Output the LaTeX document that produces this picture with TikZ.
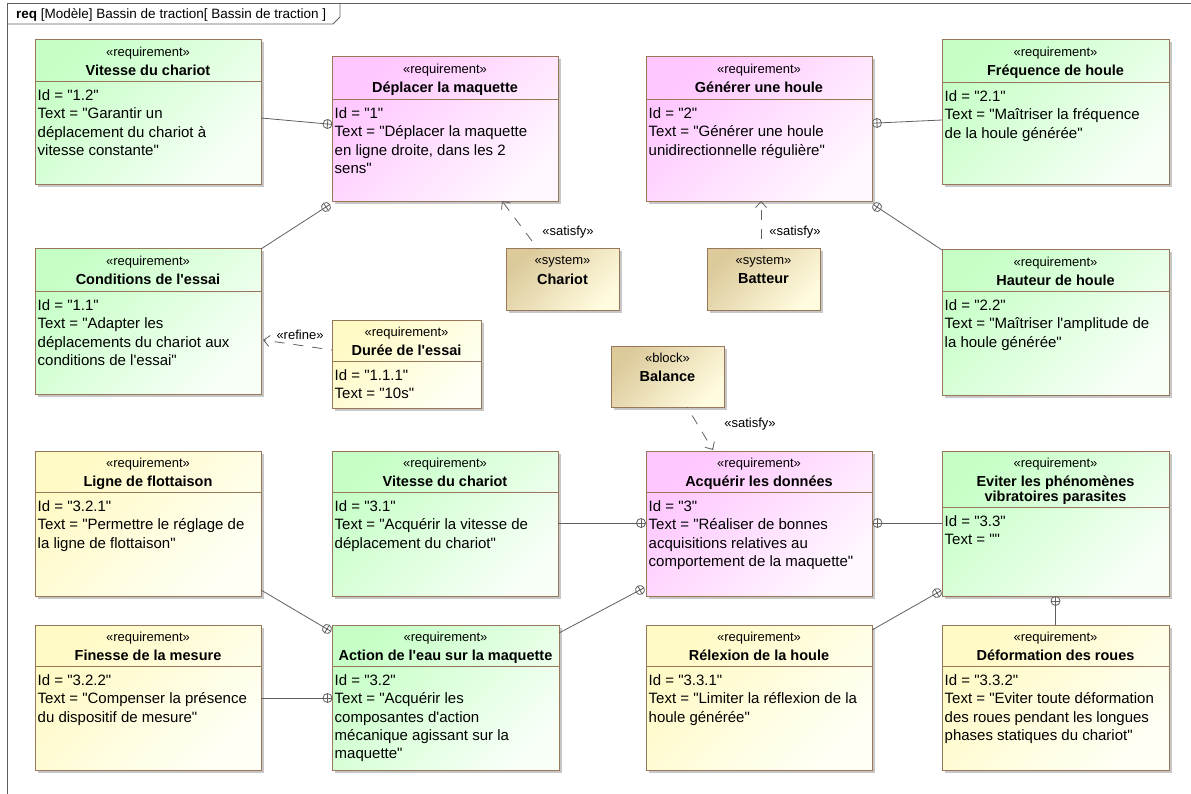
\documentclass[tikz,border=0pt]{standalone}
\usepackage{fontspec}
\setmainfont{Liberation Sans}[Ligatures=TeXOff]
\usetikzlibrary{positioning, calc, arrows.meta, decorations.markings, shadows}

\definecolor{edge}{RGB}{152,120,90}
\definecolor{wire}{RGB}{95,95,95}
\definecolor{greenA}{RGB}{198,255,198}
\definecolor{greenB}{RGB}{247,255,247}
\definecolor{pinkA}{RGB}{255,198,255}
\definecolor{pinkB}{RGB}{255,247,255}
\definecolor{yellowA}{RGB}{255,250,196}
\definecolor{yellowB}{RGB}{255,255,245}
\definecolor{tanA}{RGB}{220,202,155}
\definecolor{tanB}{RGB}{255,251,222}

\tikzset{
  box/.style={rectangle, draw=edge, line width=1pt, anchor=north west, inner sep=0pt, outer sep=0pt,
    minimum width=226pt, minimum height=145pt,
    drop shadow={shadow xshift=2.5pt, shadow yshift=-2.5pt, fill=black, opacity=0.22}},
  greenfill/.style={top color=greenA, bottom color=greenB, shading angle=45},
  pinkfill/.style={top color=pinkA, bottom color=pinkB, shading angle=45},
  yellowfill/.style={top color=yellowA, bottom color=yellowB, shading angle=45},
  tanfill/.style={top color=tanA, bottom color=tanB, shading angle=45},
  stereo/.style={font=\fontsize{13}{14}\selectfont, inner sep=0pt, anchor=north},
  heading/.style={font=\fontsize{14.5}{15.5}\selectfont\bfseries, inner sep=0pt, anchor=north, align=center},
  body/.style={font=\fontsize{15}{18.3}\selectfont, inner sep=0pt, anchor=north west, align=left},
  lbl/.style={font=\fontsize{13}{14}\selectfont, inner sep=0pt},
  divider/.style={draw=edge, line width=0.8pt},
  contain/.style={draw=wire, line width=0.8pt,
    postaction={decorate, decoration={markings, mark=at position 1 with {
      \draw[wire, line width=0.8pt, fill=white] (0pt,0pt) circle (4.5pt);
      \draw[wire, line width=0.8pt] (-4.5pt,0pt) -- (4.5pt,0pt) (0pt,-4.5pt) -- (0pt,4.5pt);}}}},
  dep/.style={draw=wire, line width=0.8pt, dash pattern=on 10pt off 9pt, dash phase=9pt,
    -{Straight Barb[length=6pt, width=11pt, line width=0.8pt]}}
}

% requirement box: [box options] {name} {north west} {fill} {title} {divider depth} {body}
\newcommand{\reqbox}[7][]{%
  \node[box, #4, #1] (#2) at (#3) {};
  \node[stereo] (#2-st) at ([yshift=-7pt]#2.north) {«requirement»};
  \node[heading] (#2-ti) at ([yshift=-24.5pt]#2.north) {#5};
  \draw[divider] ([yshift=-#6pt]#2.north west) -- ([yshift=-#6pt]#2.north east);
  \node[body] (#2-tx) at ([xshift=2.5pt, yshift=-#6pt-8.5pt]#2.north west) {#7};
}
% system / block box: {name} {north west} {stereotype} {title}
\newcommand{\sysbox}[4]{%
  \node[box, tanfill, minimum width=113pt, minimum height=61pt] (#1) at (#2) {};
  \node[stereo] (#1-st) at ([yshift=-7pt]#1.north) {«#3»};
  \node[heading] (#1-ti) at ([yshift=-24.5pt]#1.north) {#4};
}

\begin{document}
\begin{tikzpicture}[x=1pt, y=-1pt]
\useasboundingbox (0,0) rectangle (1191,794);

% Frame
\draw[wire, line width=0.8pt] (1200,3) -- (7,3) -- (7,800);
\draw[wire, line width=0.8pt] (7,24) -- (333,24) -- (340,17) -- (340,3);
\node[anchor=base west, inner sep=0pt, font=\fontsize{13.5}{14}\selectfont] (frametitle) at (16,19)
  {\textbf{req} [Modèle] Bassin de traction[ Bassin de traction ]};

% Requirements, top half
\reqbox{vitA}{35,40}{greenfill}{Vitesse du chariot}{41}
  {Id = "1.2"\\Text = "Garantir un\\déplacement du chariot à\\vitesse constante"}
\reqbox{depl}{332,57}{pinkfill}{Déplacer la maquette}{42}
  {Id = "1"\\Text = "Déplacer la maquette\\en ligne droite, dans les 2\\sens"}
\reqbox{gen}{646,57}{pinkfill}{Générer une houle}{42}
  {Id = "2"\\Text = "Générer une houle\\unidirectionnelle régulière"}
\reqbox[minimum width=227pt]{freq}{942,40}{greenfill}{Fréquence de houle}{42}
  {Id = "2.1"\\Text = "Maîtriser la fréquence\\de la houle générée"}
\reqbox{cond}{35,249}{greenfill}{Conditions de l'essai}{42}
  {Id = "1.1"\\Text = "Adapter les\\déplacements du chariot aux\\conditions de l'essai"}
\reqbox[minimum width=227pt]{haut}{942,250}{greenfill}{Hauteur de houle}{41}
  {Id = "2.2"\\Text = "Maîtriser l'amplitude de\\la houle générée"}
\reqbox[minimum width=149pt, minimum height=88pt]{duree}{332,320}{yellowfill}{Durée de l'essai}{41}
  {Id = "1.1.1"\\Text = "10s"}

% Systems and block
\sysbox{chariot}{506,249}{system}{Chariot}
\sysbox{batteur}{707,249}{system}{Batteur}
\sysbox{balance}{611,346}{block}{Balance}

% Requirements, bottom half
\reqbox{ligne}{35,451}{yellowfill}{Ligne de flottaison}{41}
  {Id = "3.2.1"\\Text = "Permettre le réglage de\\la ligne de flottaison"}
\reqbox{vitB}{332,451}{greenfill}{Vitesse du chariot}{41}
  {Id = "3.1"\\Text = "Acquérir la vitesse de\\déplacement du chariot"}
\reqbox{acq}{646,451}{pinkfill}{Acquérir les données}{41}
  {Id = "3"\\Text = "Réaliser de bonnes\\acquisitions relatives au\\comportement de la maquette"}
\reqbox[minimum width=227pt]{evit}{942,451}{greenfill}{Eviter les phénomènes\\vibratoires parasites}{56}
  {Id = "3.3"\\Text = ""}
\reqbox{fin}{35,625}{yellowfill}{Finesse de la mesure}{41}
  {Id = "3.2.2"\\Text = "Compenser la présence\\du dispositif de mesure"}
\reqbox[minimum width=227pt]{act}{332,625}{greenfill}{Action de l'eau sur la maquette}{41}
  {Id = "3.2"\\Text = "Acquérir les\\composantes d'action\\mécanique agissant sur la\\maquette"}
\reqbox{relex}{646,625}{yellowfill}{Rélexion de la houle}{41}
  {Id = "3.3.1"\\Text = "Limiter la réflexion de la\\houle générée"}
\reqbox[minimum width=227pt]{defo}{942,625}{yellowfill}{Déformation des roues}{41}
  {Id = "3.3.2"\\Text = "Eviter toute déformation\\des roues pendant les longues\\phases statiques du chariot"}

% Containment ends
\coordinate (depl-w) at (327.5,124);
\coordinate (depl-sw) at (326,207);
\coordinate (gen-e) at (877,123);
\coordinate (gen-se) at (877,207);
\coordinate (acq-w) at (641,523);
\coordinate (acq-sw) at (640,590);
\coordinate (acq-e) at (877.5,523);
\coordinate (evit-sw) at (937,593);
\coordinate (evit-s) at (1055.5,601);
\coordinate (act-nw) at (327,629);
\coordinate (act-w) at (327.5,698);

% Containment connectors
\draw[contain] ([yshift=-78pt]vitA.north east) -- (depl-w);
\draw[contain] (cond.north east) -- (depl-sw);
\draw[contain] ([yshift=-80pt]freq.north west) -- (gen-e);
\draw[contain] (haut.north west) -- (gen-se);
\draw[contain] ([yshift=-72pt]vitB.north east) -- (acq-w);
\draw[contain] ([yshift=-8pt]act.north east) -- (acq-sw);
\draw[contain] ([yshift=-72pt]evit.north west) -- (acq-e);
\draw[contain] ([yshift=-5pt]relex.north east) -- (evit-sw);
\draw[contain] (defo.north) -- (evit-s);
\draw[contain] ([yshift=-139pt]ligne.north east) -- (act-nw);
\draw[contain] ([yshift=-73pt]fin.north east) -- (act-w);

% Refine and satisfy dependencies
\draw[dep] ([yshift=-30pt]duree.north west) -- ([xshift=2pt, yshift=-91pt]cond.north east);
\node[lbl] (refine) at (300,335) {«refine»};
\draw[dep] ([xshift=32pt]chariot.north west) -- ([xshift=170pt, yshift=1pt]depl.south west);
\node[lbl] (sat1) at (568,232) {«satisfy»};
\draw[dep] ([xshift=54pt]batteur.north west) -- ([xshift=115pt, yshift=1pt]gen.south west);
\node[lbl] (sat2) at (795,232) {«satisfy»};
\draw[dep] ([xshift=76pt]balance.south west) -- ([xshift=67pt, yshift=1pt]acq.north west);
\node[lbl] (sat3) at (750,424) {«satisfy»};
\end{tikzpicture}
\end{document}
